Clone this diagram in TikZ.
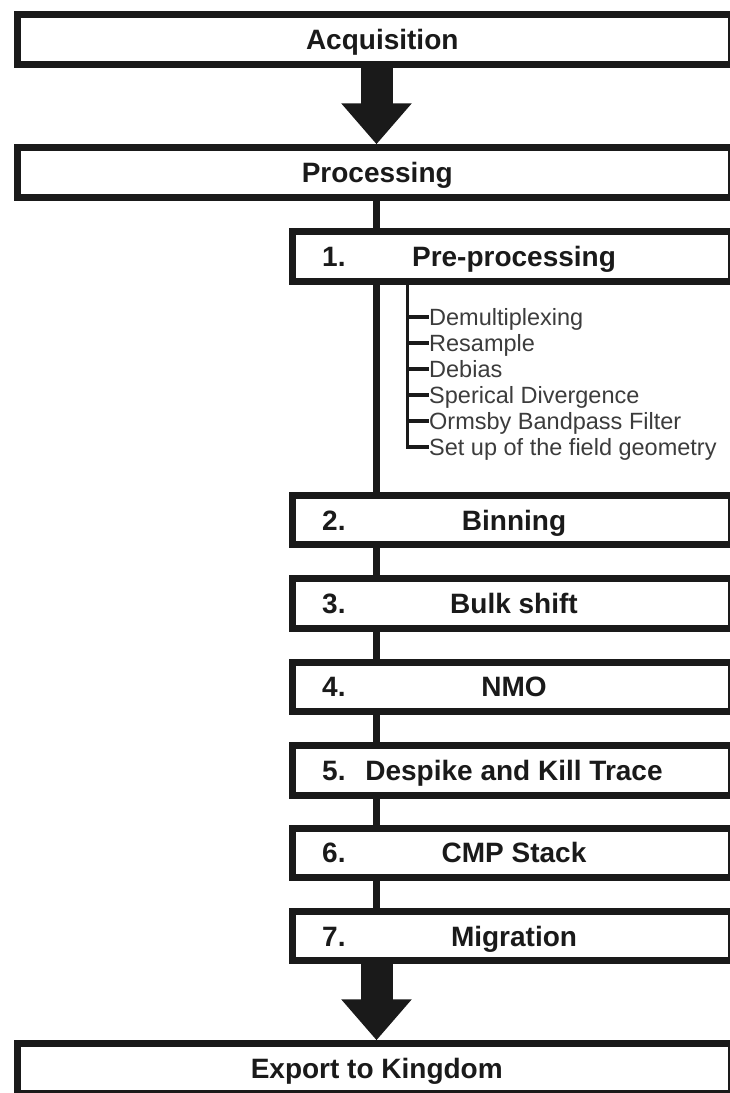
\documentclass[tikz,border=0pt]{standalone}
\usepackage{fontspec}
\setmainfont{Liberation Sans}
\usetikzlibrary{arrows.meta,calc}
\definecolor{ink}{HTML}{1A1A1A}
\definecolor{subgray}{HTML}{3C3C3C}
\begin{document}
\begin{tikzpicture}[x=1pt,y=-1pt,
  box/.style={draw=ink,line width=7pt,fill=white,rectangle,minimum height=49.5pt,inner sep=0pt,
    font=\fontsize{28}{30}\selectfont\bfseries,text=ink,text height=26.5pt,text depth=6.4pt},
  widebox/.style={box,minimum width=714.5pt},
  stepbox/.style={box,minimum width=439pt},
  num/.style={anchor=west,inner sep=0pt,font=\fontsize{28}{30}\selectfont\bfseries,text=ink,
    text height=26.5pt,text depth=6.4pt},
  sub/.style={anchor=west,inner sep=0pt,font=\fontsize{23.5}{26}\selectfont,text=subgray,
    text height=22.5pt,text depth=5.6pt},
  conn/.style={draw=ink,line width=6.5pt},
  brk/.style={draw=ink,line width=3.5pt},
  bigarrow/.style={draw=ink,line width=32pt,-{Triangle[width=68pt,length=41pt]}}
]
\useasboundingbox[fill=white] (0,0) rectangle (730,1093);
\clip (0,0) rectangle (730,1093);

% main boxes
\node[widebox] (acq) at (374.25,39.25) {\hspace*{16pt}Acquisition};
\node[widebox] (proc) at (374.25,172.5) {\hspace*{6pt}Processing};
\node[widebox] (exp) at (374.25,1068.5) {\hspace*{5pt}Export to Kingdom};

% step boxes
\node[stepbox] (pre) at (512,256.25) {\hspace*{4pt}Pre-processing};
\node[stepbox] (bin) at (512,520) {\hspace*{4pt}Binning};
\node[stepbox] (bulk) at (512,603.5) {\hspace*{4pt}Bulk shift};
\node[stepbox] (nmo) at (512,686.75) {\hspace*{4pt}NMO};
\node[stepbox] (desp) at (512,770.25) {\hspace*{4pt}Despike and Kill Trace};
\node[stepbox] (cmp) at (512,852.75) {\hspace*{4pt}CMP Stack};
\node[stepbox] (mig) at (512,936) {\hspace*{4pt}Migration};

% numbers
\node[num] (n1) at ($(pre.west)+(33,0)$) {1.};
\node[num] (n2) at ($(bin.west)+(33,0)$) {2.};
\node[num] (n3) at ($(bulk.west)+(33,0)$) {3.};
\node[num] (n4) at ($(nmo.west)+(33,0)$) {4.};
\node[num] (n5) at ($(desp.west)+(33,0)$) {5.};
\node[num] (n6) at ($(cmp.west)+(33,0)$) {6.};
\node[num] (n7) at ($(mig.west)+(33,0)$) {7.};

% sub items
\node[sub] (s1) at (429,317) {Demultiplexing};
\node[sub] (s2) at (429,343) {Resample};
\node[sub] (s3) at (429,369) {Debias};
\node[sub] (s4) at (429,395) {Sperical Divergence};
\node[sub] (s5) at (429,421) {Ormsby Bandpass Filter};
\node[sub] (s6) at (429,447) {Set up of the field geometry};

% spine connectors
\coordinate (spine) at (376.5,0);
\coordinate (brkx) at (407.5,0);
\draw[bigarrow] (acq.south -| spine) -- (proc.north -| spine);
\draw[conn] (proc.south -| spine) -- (pre.north -| spine);
\draw[conn] (pre.south -| spine) -- (bin.north -| spine);
\draw[conn] (bin.south -| spine) -- (bulk.north -| spine);
\draw[conn] (bulk.south -| spine) -- (nmo.north -| spine);
\draw[conn] (nmo.south -| spine) -- (desp.north -| spine);
\draw[conn] (desp.south -| spine) -- (cmp.north -| spine);
\draw[conn] (cmp.south -| spine) -- (mig.north -| spine);
\draw[bigarrow] (mig.south -| spine) -- (exp.north -| spine);

% bracket of sub items
\draw[brk] (pre.south -| brkx) -- (brkx |- s6.west) -- (s6.west);
\draw[brk] (brkx |- s1.west) -- (s1.west);
\draw[brk] (brkx |- s2.west) -- (s2.west);
\draw[brk] (brkx |- s3.west) -- (s3.west);
\draw[brk] (brkx |- s4.west) -- (s4.west);
\draw[brk] (brkx |- s5.west) -- (s5.west);
\end{tikzpicture}
\end{document}
